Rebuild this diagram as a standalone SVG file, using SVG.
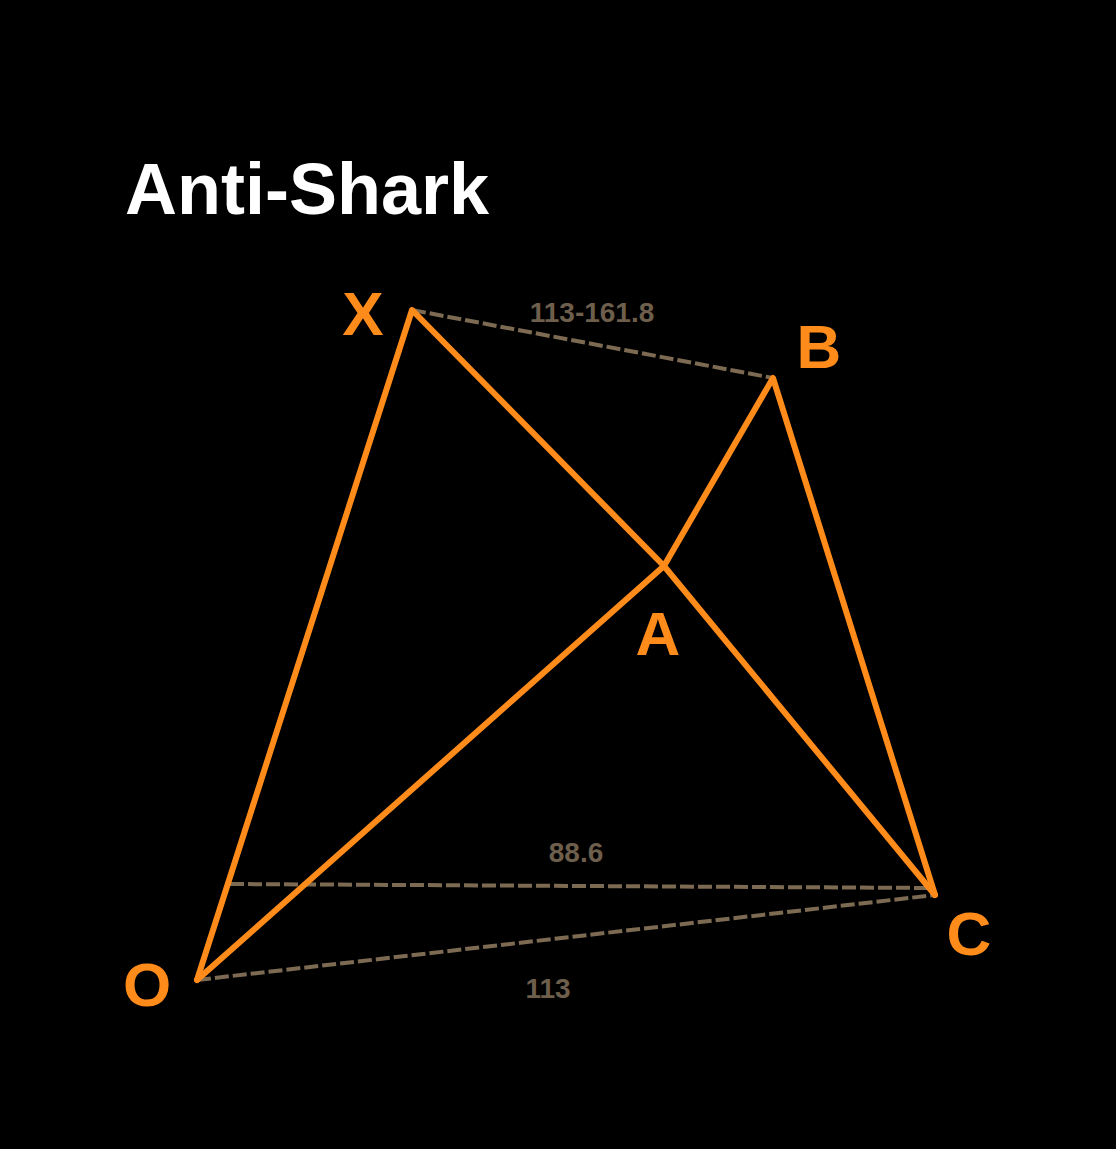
<svg xmlns="http://www.w3.org/2000/svg" width="1116" height="1149" viewBox="0 0 1116 1149">
<style>
.pt{font-family:"Liberation Sans",Arial,sans-serif;font-weight:bold;font-size:62px;fill:#ff8c1a;text-anchor:middle}
.lbl{font-family:"Liberation Sans",Arial,sans-serif;font-weight:bold;font-size:28px;fill:#6e5f4c;text-anchor:middle}
.ratio{stroke:#7d6a52;stroke-width:4;stroke-dasharray:14 4;fill:none}
.leg{stroke:#ff8c1a;stroke-width:6;stroke-linecap:round;stroke-linejoin:round;fill:none}
</style>
<rect width="1116" height="1149" fill="#000"/>
<text x="125" y="214" font-family="Liberation Sans,Arial,sans-serif" font-weight="bold" font-size="72" fill="#fff">Anti-Shark</text>
<g id="connectors">
<line class="ratio" x1="412" y1="310" x2="773" y2="378"/>
<line class="ratio" x1="230" y1="884" x2="935" y2="888"/>
<line class="ratio" x1="197" y1="980" x2="935" y2="895"/>
<polyline class="leg" points="197,980 412,310 664,566 773,378 935,895"/>
<line class="leg" x1="197" y1="980" x2="664" y2="566"/>
<line class="leg" x1="664" y1="566" x2="935" y2="895"/>
<text class="lbl" x="592" y="322">113-161.8</text>
<text class="lbl" x="576" y="862">88.6</text>
<text class="lbl" x="548" y="998">113</text>
</g>
<g id="node-X"><text class="pt" x="363" y="335">X</text></g>
<g id="node-B"><text class="pt" x="819" y="368">B</text></g>
<g id="node-A"><text class="pt" x="658" y="655">A</text></g>
<g id="node-C"><text class="pt" x="969" y="955">C</text></g>
<g id="node-O"><text class="pt" x="147" y="1006">O</text></g>
</svg>
